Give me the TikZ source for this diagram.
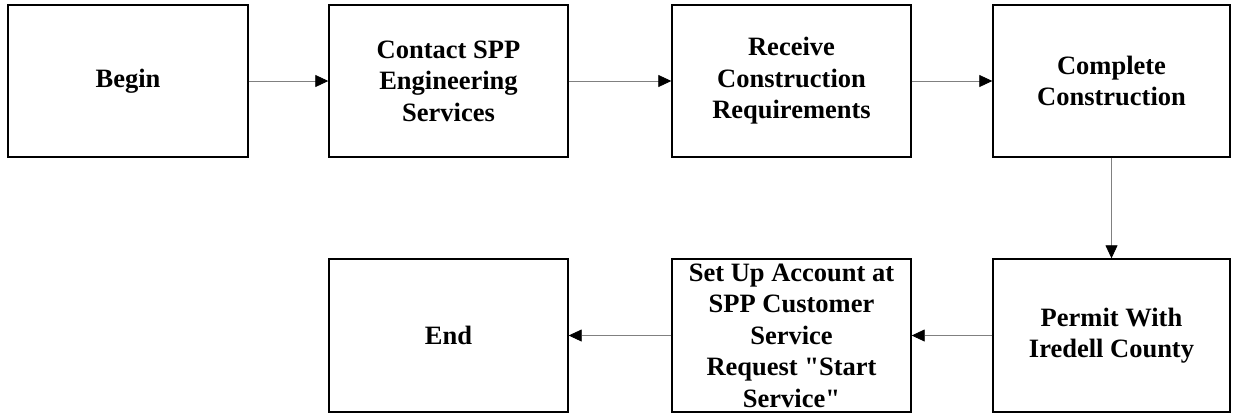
\documentclass[tikz,border=0pt]{standalone}
\usepackage{fontspec}
\setmainfont{Liberation Serif}[Ligatures=TeXOff]
\usepackage{tikz}
\usetikzlibrary{arrows.meta}

\begin{document}
\begin{tikzpicture}[
      >={Triangle[length=13pt, width=12pt, color=black]},
      box/.style={draw, line width=1.4pt, align=center, minimum height=152pt,
                  minimum width=239pt, inner sep=0pt,
                  font=\fontsize{26.5}{31.5}\selectfont\bfseries},
      link/.style={->, draw=black!50, line width=0.8pt},
      x=1pt, y=-1pt]
    \useasboundingbox (0,0) rectangle (1233,413);
    % nodes (top row, then bottom row)
    \node[box, minimum width=240pt] (begin) at (128,81) {Begin};
    \node[box] (contact) at (448.5,81) {Contact SPP\\Engineering\\Services};
    \node[box] (receive) at (791.5,81) {Receive\\Construction\\Requirements};
    \node[box, minimum width=237pt] (complete) at (1111.5,81) {Complete\\Construction};
    \node[box, minimum width=237pt, minimum height=153pt] (permit) at (1111.5,335.5) {Permit With\\Iredell County};
    \node[box, minimum height=153pt] (setup) at (791.5,335.5) {Set Up Account at\\SPP Customer\\Service\\Request "Start\\Service"};
    \node[box, minimum height=153pt] (end) at (448.5,335.5) {End};
    % connectors
    \draw[link] (begin) -- (contact);
    \draw[link] (contact) -- (receive);
    \draw[link] (receive) -- (complete);
    \draw[link] (complete) -- (permit);
    \draw[link] (permit) -- (setup);
    \draw[link] (setup) -- (end);
  \end{tikzpicture}
\end{document}
